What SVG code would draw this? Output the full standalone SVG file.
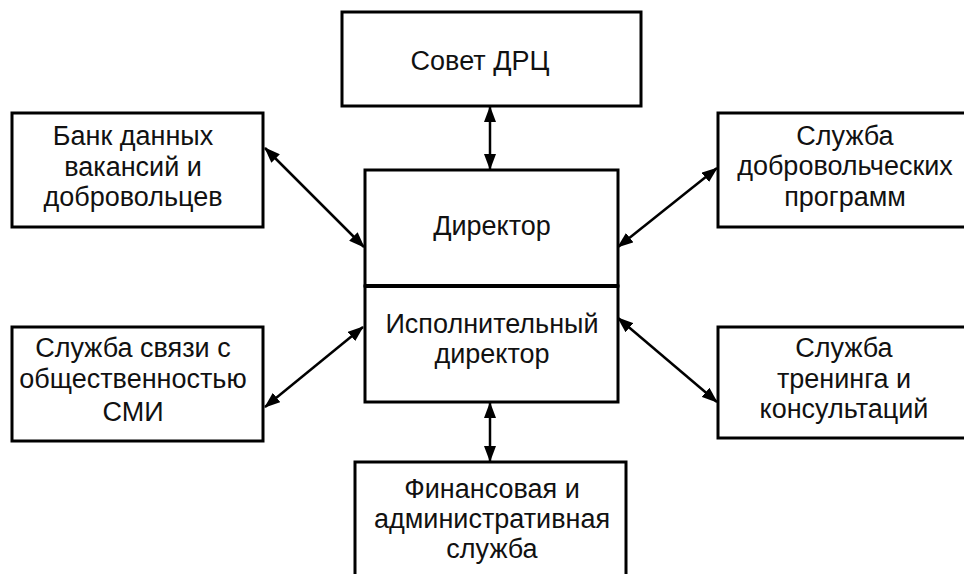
<svg xmlns="http://www.w3.org/2000/svg" width="964" height="574" viewBox="0 0 964 574">
<style>
.box{fill:#fff;stroke:#000;stroke-width:3}
.t{font-family:"Liberation Sans",Arial,sans-serif;font-size:27px;fill:#111;text-anchor:middle}
.c{stroke:#000;stroke-width:2.5;fill:none;marker-start:url(#ah);marker-end:url(#ah)}
</style>
<defs>
<marker id="ah" viewBox="0 0 16 12" refX="15" refY="6" markerWidth="16" markerHeight="12" markerUnits="userSpaceOnUse" orient="auto-start-reverse">
<path d="M0,0 L16,6 L0,12 Z" fill="#000"/>
</marker>
</defs>
<rect width="964" height="574" fill="#fff"/>
<g id="connectors">
<line class="c" x1="490" y1="107" x2="490" y2="169"/>
<line class="c" x1="490" y1="403" x2="490" y2="461"/>
<line class="c" x1="265" y1="148" x2="364" y2="247"/>
<line class="c" x1="618" y1="247" x2="717" y2="168"/>
<line class="c" x1="265" y1="407" x2="363" y2="327"/>
<line class="c" x1="618" y1="318" x2="717" y2="402"/>
</g>
<g id="sovet">
<rect class="box" x="342" y="12" width="299" height="94"/>
<text class="t" x="480" y="70">Совет ДРЦ</text>
</g>
<g id="director">
<rect class="box" x="365" y="170" width="253" height="116"/>
<text class="t" x="492" y="235">Директор</text>
</g>
<g id="exec">
<rect class="box" x="365" y="286" width="253" height="116"/>
<line x1="365" y1="286" x2="618" y2="286" stroke="#000" stroke-width="4"/>
<text class="t" x="492" y="333">Исполнительный</text>
<text class="t" x="492" y="363">директор</text>
</g>
<g id="bank">
<rect class="box" x="12" y="113" width="251" height="114"/>
<text class="t" x="133" y="145">Банк данных</text>
<text class="t" x="133" y="176">вакансий и</text>
<text class="t" x="133" y="206">добровольцев</text>
</g>
<g id="volunteer">
<rect class="box" x="718" y="113" width="256" height="114"/>
<text class="t" x="845" y="145">Служба</text>
<text class="t" x="845" y="175">добровольческих</text>
<text class="t" x="845" y="206">программ</text>
</g>
<g id="pr">
<rect class="box" x="12" y="327" width="251" height="114"/>
<text class="t" x="133" y="357">Служба связи с</text>
<text class="t" x="133" y="388">общественностью</text>
<text class="t" x="133" y="421">СМИ</text>
</g>
<g id="training">
<rect class="box" x="718" y="327" width="256" height="111"/>
<text class="t" x="844" y="357">Служба</text>
<text class="t" x="844" y="388">тренинга и</text>
<text class="t" x="844" y="418">консультаций</text>
</g>
<g id="finance">
<rect class="box" x="355" y="462" width="271" height="130"/>
<text class="t" x="492" y="498">Финансовая и</text>
<text class="t" x="492" y="528">административная</text>
<text class="t" x="492" y="558">служба</text>
</g>
</svg>
